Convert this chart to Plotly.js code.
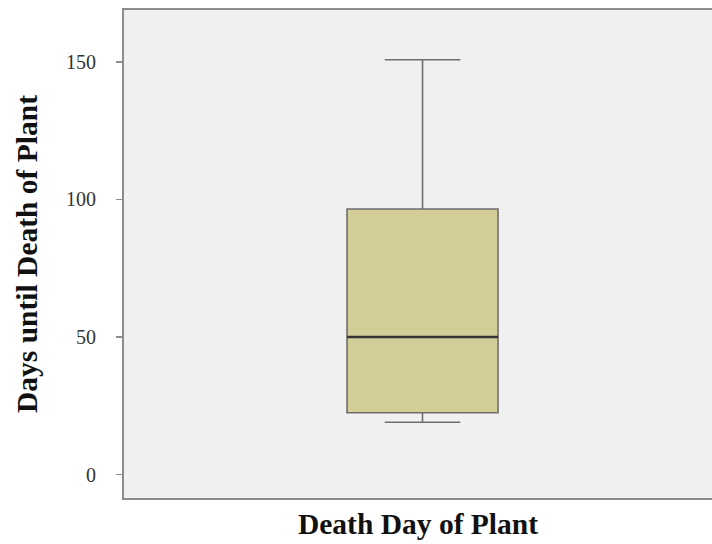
<!DOCTYPE html>
<html>
<head>
<meta charset="utf-8">
<script src="https://cdn.plot.ly/plotly-3.0.1.min.js"></script>
<style>html,body{margin:0;padding:0;background:#fff;}</style>
</head>
<body>
<div id="chart" style="width:712px;height:544px;"></div>
<script>
// Data
const category = ["Death Day of Plant"];
const lowerWhisker = [19];
const q1 = [22.5];
const median = [50];
const q3 = [96.5];
const upperWhisker = [150.7];
const yTickVals = [0, 50, 100, 150];
const yTickText = ["0", "50", "100", "150"];

const boxWidth = 1;
const xPos = [0];

const traces = [
  {
    type: "box",
    x: xPos,
    q1: q1,
    median: median,
    q3: q3,
    lowerfence: lowerWhisker,
    upperfence: upperWhisker,
    width: boxWidth,
    whiskerwidth: 0.5,
    fillcolor: "#d3ce97",
    line: {color: "#6e6e6e", width: 1.6},
    boxpoints: false,
    hoverinfo: "skip",
    name: category[0],
    showlegend: false
  },
  {
    type: "scatter",
    mode: "lines",
    x: [xPos[0] - boxWidth / 2, xPos[0] + boxWidth / 2],
    y: [median[0], median[0]],
    line: {color: "#333333", width: 2.5},
    hoverinfo: "skip",
    showlegend: false
  }
];

const layout = {
  width: 712,
  height: 544,
  margin: {l: 124, r: 0, t: 10, b: 46},
  paper_bgcolor: "#ffffff",
  plot_bgcolor: "#f0f0f0",
  showlegend: false,
  xaxis: {
    range: [-1.977, 1.917],
    showticklabels: false,
    ticks: "",
    showgrid: false,
    zeroline: false,
    showline: true,
    linecolor: "#8c8c8c",
    linewidth: 2,
    mirror: true,
    title: {
      text: "<b>Death Day of Plant</b>",
      font: {family: "Liberation Serif, Times New Roman, serif", size: 29.5, color: "#111"},
      standoff: 14
    },
    fixedrange: true
  },
  yaxis: {
    range: [-8.5, 168.8],
    tickvals: yTickVals,
    ticktext: yTickText,
    ticks: "outside",
    ticklen: 6,
    tickcolor: "#8c8c8c",
    tickwidth: 1.5,
    ticklabelstandoff: 16,
    tickfont: {family: "Liberation Serif, Times New Roman, serif", size: 20, color: "#333"},
    showgrid: false,
    zeroline: false,
    showline: true,
    linecolor: "#8c8c8c",
    linewidth: 2,
    title: {
      text: "<b>Days until Death of Plant</b>",
      font: {family: "Liberation Serif, Times New Roman, serif", size: 29.5, color: "#111"},
      standoff: 20
    },
    fixedrange: true
  }
};

Plotly.newPlot("chart", traces, layout, {displayModeBar: false, staticPlot: true});
</script>
</body>
</html>
